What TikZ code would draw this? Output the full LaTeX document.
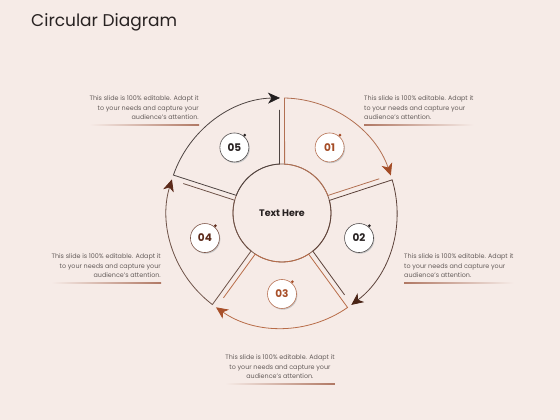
\documentclass[tikz,border=0pt]{standalone}
\usepackage{fontspec}
\setmainfont{Poppins}
\usetikzlibrary{arrows.meta,calc,shadows}

\definecolor{paper}{RGB}{246,235,231}
\definecolor{notegray}{RGB}{100,92,90}
\definecolor{darktext}{RGB}{40,34,34}
\definecolor{hubline}{RGB}{130,95,80}
\definecolor{rule}{RGB}{176,120,100}
% sector lines and arrow tips
\definecolor{c1}{RGB}{178,112,82}
\definecolor{c2}{RGB}{92,66,58}
\definecolor{c3}{RGB}{184,108,72}
\definecolor{c4}{RGB}{110,82,72}
\definecolor{c5}{RGB}{78,68,66}
\definecolor{t1}{RGB}{164,76,38}
\definecolor{t2}{RGB}{74,36,22}
\definecolor{t3}{RGB}{168,80,42}
\definecolor{t4}{RGB}{92,42,26}
\definecolor{t5}{RGB}{35,31,32}

\begin{document}
\begin{tikzpicture}[x=1pt,y=1pt,
    note/.style={font=\fontsize{6.4}{9.5}\selectfont, text=notegray, inner sep=0pt},
    badge/.style={circle, fill=white, draw=#1!80, line width=0.6pt, minimum size=29pt,
      inner sep=0pt, font=\fontsize{10.5}{12}\selectfont\bfseries, text=#1,
      drop shadow={shadow xshift=0.9pt, shadow yshift=-1.2pt, fill=black!22, opacity=1}},
    sector/.style={line width=0.8pt}]
  \fill[paper] (0,0) rectangle (560,420);
  \useasboundingbox (0,0) rectangle (560,420);
  \node[anchor=base west, inner sep=0pt, font=\fontsize{17}{20}\selectfont, text=darktext] (title) at (31,393) {Circular Diagram};

  \def\Ro{115} \def\ri{49} \def\g{2.5}
  \begin{scope}[shift={(282,207)}]
    \node[circle, draw=hubline, line width=0.8pt, minimum size=98pt,
      font=\fontsize{9.5}{11}\selectfont\bfseries, text=darktext] (hub) at (0,0) {Text Here};
    \foreach \a/\col/\tip in {90/c1/t1,18/c2/t2,-54/c3/t3,-126/c4/t4,162/c5/t5} {
      \pgfmathsetmacro\b{\a-72}
      \draw[sector,\col,-{Stealth[length=12pt,width=11pt,inset=3.5pt,color=\tip]}]
        ($(\b:\Ro-12)+(\b+90:\g)$) -- ($(\b:\ri)+(\b+90:\g)$)
        arc[start angle=\b+3, end angle=\a-3, radius=\ri]
        -- ($(\a:\Ro)+(\a-90:\g)$)
        arc[start angle=\a-1.2, end angle=\b+1, radius=\Ro];
    }
    \foreach \n/\ang/\col in {01/54/t1,02/-18/darktext,03/-90/t3,04/198/t4,05/126/darktext} {
      \node[badge=\col] (badge\n) at (\ang:81) {\n};
      \fill[\col] ($(badge\n.50)+(50:1.3)$) circle (1.5);
    }
  \end{scope}

  \node[note, anchor=east, align=right] (note5) at (199,312)
    {This slide is 100\% editable. Adapt it\\to your needs and capture your\\audience's attention.};
  \node[note, anchor=west, align=left] (note1) at (364,312)
    {This slide is 100\% editable. Adapt it\\to your needs and capture your\\audience's attention.};
  \node[note, anchor=west, align=left] (note2) at (404,154)
    {This slide is 100\% editable. Adapt it\\to your needs and capture your\\audience's attention.};
  \node[note, anchor=east, align=right] (note4) at (161,154)
    {This slide is 100\% editable. Adapt it\\to your needs and capture your\\audience's attention.};
  \node[note, align=center] (note3) at (280,53)
    {This slide is 100\% editable. Adapt it\\to your needs and capture your\\audience's attention.};

  \shade[left color=paper, right color=rule] ($(note5.south west)+(0,-4.5)$) rectangle ($(note5.south east)+(0,-5.1)$);
  \shade[left color=rule, right color=paper] ($(note1.south west)+(0,-4.5)$) rectangle ($(note1.south east)+(0,-5.1)$);
  \shade[left color=rule, right color=paper] ($(note2.south west)+(0,-4.5)$) rectangle ($(note2.south east)+(0,-5.1)$);
  \shade[left color=paper, right color=rule] ($(note4.south west)+(0,-4.5)$) rectangle ($(note4.south east)+(0,-5.1)$);
  \shade[left color=paper, right color=rule] ($(note3.south west)+(0,-4.5)$) rectangle ($(note3.south east)+(0,-5.1)$);
\end{tikzpicture}
\end{document}
